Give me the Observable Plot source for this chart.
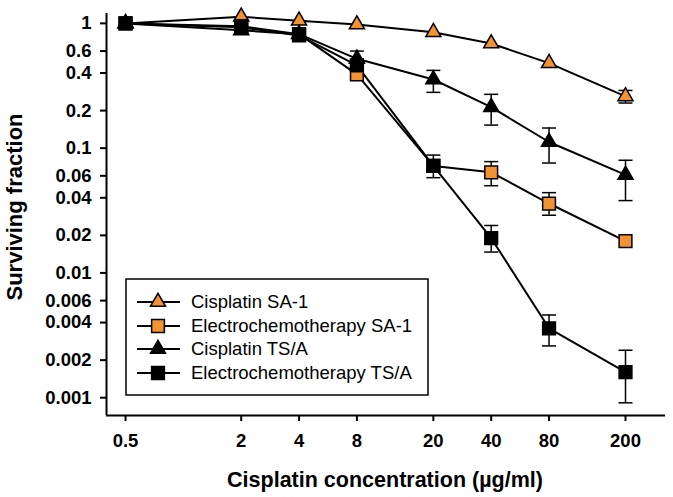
<!DOCTYPE html>
<html>
<head>
<meta charset="utf-8">
<script src="https://cdn.jsdelivr.net/npm/d3@7"></script>
<script src="https://cdn.jsdelivr.net/npm/@observablehq/plot@0.6"></script>
<style>
  body { margin: 0; background: #fff; }
  #chart svg { font-family: "Liberation Sans", Arial, sans-serif; }
</style>
</head>
<body>
<div id="chart"></div>
<script>
// ---- data ----
const conc = [0.5, 2, 4, 8, 20, 40, 80, 200];
const seriesNames = ["Cisplatin SA-1", "Electrochemotherapy SA-1", "Cisplatin TS/A", "Electrochemotherapy TS/A"];
const cisSA1 = [1.0, 1.13, 1.05, 0.98, 0.85, 0.69, 0.48, 0.26];
const ectSA1 = [1.0, 0.95, 0.82, 0.39, 0.072, 0.064, 0.036, 0.018];
const cisTSA = [1.0, 0.88, 0.82, 0.52, 0.355, 0.213, 0.112, 0.061];
const ectTSA = [1.0, 0.93, 0.80, 0.46, 0.072, 0.019, 0.0036, 0.0016];
// error bar limits (null = not visible)
const cisSA1Lo = [null, null, null, null, null, null, null, 0.23];
const cisSA1Hi = [null, null, null, null, null, null, null, 0.29];
const ectSA1Lo = [null, null, null, null, null, 0.05, 0.029, null];
const ectSA1Hi = [null, null, null, null, null, 0.078, 0.044, null];
const cisTSALo = [null, null, null, 0.45, 0.28, 0.153, 0.076, 0.038];
const cisTSAHi = [null, null, null, 0.60, 0.42, 0.27, 0.145, 0.08];
const ectTSALo = [null, null, null, null, 0.058, 0.0147, 0.0026, 0.00091];
const ectTSAHi = [null, null, null, null, 0.088, 0.024, 0.0046, 0.0024];
const xTicks = [0.5, 2, 4, 8, 20, 40, 80, 200];
const yTicks = [1, 0.6, 0.4, 0.2, 0.1, 0.06, 0.04, 0.02, 0.01, 0.006, 0.004, 0.002, 0.001];
const xDomain = [0.398, 323];
const yDomain = [0.00072, 1.2];

// ---- styles ----
const ORANGE = "#f39233";
const FONT = "Liberation Sans, Arial, sans-serif";
const styles = [
  {symbol: "triangle", fill: ORANGE, r: 5.6},
  {symbol: "square", fill: ORANGE, r: 7.2},
  {symbol: "triangle", fill: "#000", r: 5.6},
  {symbol: "square", fill: "#000", r: 7.2}
];
const vals = [cisSA1, ectSA1, cisTSA, ectTSA];
const los = [cisSA1Lo, ectSA1Lo, cisTSALo, ectTSALo];
const his = [cisSA1Hi, ectSA1Hi, cisTSAHi, ectTSAHi];

const rows = [];
const errs = [];
seriesNames.forEach((s, i) => {
  conc.forEach((c, j) => {
    rows.push({series: s, idx: i, x: c, y: vals[i][j]});
    if (los[i][j] != null) errs.push({series: s, idx: i, x: c, lo: los[i][j], hi: his[i][j]});
  });
});

const cap = {draw(ctx) { ctx.moveTo(-7, 0); ctx.lineTo(7, 0); }};

const marks = [
  Plot.ruleX([xDomain[0]], {stroke: "#000", strokeWidth: 2}),
  Plot.ruleY([yDomain[0]], {stroke: "#000", strokeWidth: 2}),
  Plot.axisX({ticks: xTicks, tickFormat: () => "", tickSize: 6, label: null, strokeWidth: 2}),
  Plot.axisY({ticks: yTicks, tickFormat: () => "", tickSize: 6, label: null, strokeWidth: 2}),
  Plot.text(xTicks, {x: d => d, y: () => yDomain[0], dy: 26, text: d => String(d),
    fontSize: 18.5, fontWeight: "bold", textAnchor: "middle"}),
  Plot.text(yTicks, {x: () => xDomain[0], y: d => d, dx: -15, text: d => String(d),
    fontSize: 18.5, fontWeight: "bold", textAnchor: "end"}),
];
seriesNames.forEach((s, i) => {
  marks.push(Plot.line(rows.filter(d => d.idx === i), {x: "x", y: "y", stroke: "#000", strokeWidth: 2}));
});
seriesNames.forEach((s, i) => {
  const e = errs.filter(d => d.idx === i);
  marks.push(Plot.ruleX(e, {x: "x", y1: "lo", y2: "hi", stroke: "#000", strokeWidth: 1.5}));
  marks.push(Plot.dot(e, {x: "x", y: "lo", symbol: cap, stroke: "#000", strokeWidth: 1.5, fill: "none"}));
  marks.push(Plot.dot(e, {x: "x", y: "hi", symbol: cap, stroke: "#000", strokeWidth: 1.5, fill: "none"}));
});
seriesNames.forEach((s, i) => {
  const st = styles[i];
  marks.push(Plot.dot(rows.filter(d => d.idx === i), {x: "x", y: "y", symbol: st.symbol, r: st.r,
    fill: st.fill, stroke: "#000", strokeWidth: 1.5}));
});

const chart = Plot.plot({
  width: 673,
  height: 497,
  marginLeft: 106,
  marginRight: 8,
  marginTop: 13,
  marginBottom: 82,
  style: {fontFamily: FONT, color: "#000", background: "#fff"},
  x: {type: "log", domain: xDomain},
  y: {type: "log", domain: yDomain},
  marks
});

// ---- titles & legend ----
const svg = d3.select(chart);
svg.append("text")
  .attr("x", 385).attr("y", 487)
  .attr("text-anchor", "middle")
  .attr("font-size", 21.5).attr("font-weight", "bold")
  .attr("font-family", FONT)
  .text("Cisplatin concentration (\u00b5g/ml)");
svg.append("text")
  .attr("transform", "translate(22,207) rotate(-90)")
  .attr("text-anchor", "middle")
  .attr("font-size", 22).attr("font-weight", "bold")
  .attr("font-family", FONT)
  .text("Surviving fraction");

const lg = svg.append("g");
lg.append("rect").attr("x", 126).attr("y", 279).attr("width", 302).attr("height", 116)
  .attr("fill", "#fff").attr("stroke", "#000").attr("stroke-width", 1.5);
const rowY = [302, 326, 349, 373];
seriesNames.forEach((s, i) => {
  const st = styles[i];
  const g = lg.append("g").attr("transform", `translate(0,${rowY[i]})`);
  g.append("line").attr("x1", 137).attr("x2", 180).attr("y1", 0).attr("y2", 0)
    .attr("stroke", "#000").attr("stroke-width", 2);
  const type = st.symbol === "triangle" ? d3.symbolTriangle : d3.symbolSquare;
  g.append("path").attr("transform", "translate(158,0)")
    .attr("d", d3.symbol(type, Math.PI * st.r * st.r)())
    .attr("fill", st.fill).attr("stroke", "#000").attr("stroke-width", 1.5);
  g.append("text").attr("x", 191).attr("y", 0).attr("dy", "0.35em")
    .attr("text-anchor", "start")
    .attr("font-size", 18.5)
    .attr("font-family", FONT)
    .text(s);
});

document.getElementById("chart").append(chart);
</script>
</body>
</html>
